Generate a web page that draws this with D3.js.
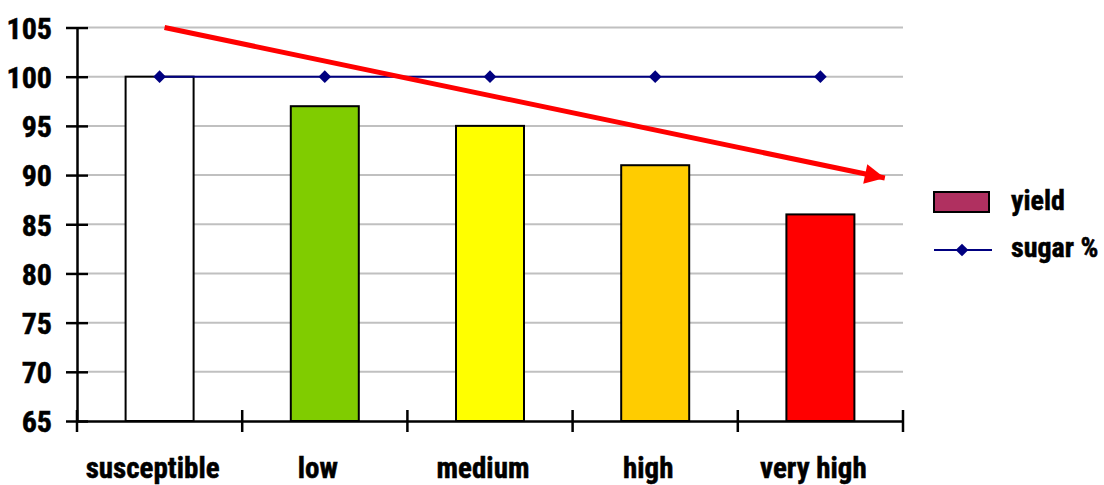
<!DOCTYPE html>
<html>
<head>
<meta charset="utf-8">
<script src="https://cdn.jsdelivr.net/npm/d3@7/dist/d3.min.js"></script>
<style>
  html, body { margin: 0; padding: 0; background: #fff; }
  svg text { font-family: "Liberation Sans Narrow", "Arial Narrow", "Roboto Condensed", sans-serif; font-weight: bold; fill: #000; stroke: #000; stroke-width: 0.5px; }
</style>
</head>
<body>
<svg id="chart" width="1104" height="485"></svg>
<script>
// Resistance classes and their relative values (%)
const categories = ["susceptible", "low", "medium", "high", "very high"];
const yieldValues = [100, 97, 95, 91, 86];
const sugarValues = [100, 100, 100, 100, 100];
const barColors = ["#FFFFFF", "#80CC00", "#FFFF00", "#FFCC00", "#FF0000"];
const yTicks = [65, 70, 75, 80, 85, 90, 95, 100, 105];
// Trend arrow, given as [category position, value]
const trendStart = [0.03, 105];
const trendEnd = [4.39, 89.7];

const svg = d3.select("#chart");
const plotLeft = 77, plotRight = 903, plotTop = 27.5, plotBottom = 421;

const x = d3.scaleBand().domain(categories).range([plotLeft, plotRight]);
const xi = d3.scaleLinear().domain([-0.5, categories.length - 0.5]).range([plotLeft, plotRight]);
const y = d3.scaleLinear().domain([65, 105]).range([plotBottom, plotTop]);
const barW = 68;
const cx = i => x(categories[i]) + x.bandwidth() / 2;

// Horizontal gridlines
svg.append("g").selectAll("line").data(yTicks.filter(t => t > 65)).join("line")
  .attr("x1", plotLeft + 11).attr("x2", plotRight)
  .attr("y1", d => y(d)).attr("y2", d => y(d))
  .attr("stroke", "#c0c0c0").attr("stroke-width", 2);

// Bars
svg.append("g").selectAll("rect").data(yieldValues).join("rect")
  .attr("x", (d, i) => cx(i) - barW / 2)
  .attr("width", barW)
  .attr("y", d => y(d))
  .attr("height", d => y(65) - y(d))
  .attr("fill", (d, i) => barColors[i])
  .attr("stroke", "#000").attr("stroke-width", 2);

// Y axis
const yAxis = d3.axisLeft(y).tickValues(yTicks).tickSize(0).tickPadding(25);
const gy = svg.append("g").attr("transform", `translate(${plotLeft},0)`).call(yAxis);
gy.select(".domain").attr("stroke", "#000").attr("stroke-width", 2.5);
gy.selectAll(".tick text").style("font-size", "30px").attr("dy", "0.36em");
gy.selectAll(".tick").append("line").attr("x1", -11).attr("x2", 11)
  .attr("stroke", "#000").attr("stroke-width", 2.5);

// X axis
const xAxis = d3.axisBottom(x).tickSize(0).tickPadding(36);
const gx = svg.append("g").attr("transform", `translate(0,${plotBottom})`).call(xAxis);
gx.select(".domain").attr("stroke", "#000").attr("stroke-width", 2.5);
gx.selectAll(".tick text").style("font-size", "29px").attr("dx", -7);
const bounds = d3.range(categories.length + 1).map(i => xi(i - 0.5));
gx.selectAll("line.sep").data(bounds).join("line").attr("class", "sep")
  .attr("x1", d => d).attr("x2", d => d).attr("y1", -11).attr("y2", 11)
  .attr("stroke", "#000").attr("stroke-width", 2.5);

// Sugar line with diamond markers
const diamond = d3.symbol().type(d3.symbolSquare).size(80);
const line = d3.line().x((d, i) => cx(i)).y(d => y(d));
svg.append("path").datum(sugarValues).attr("d", line)
  .attr("fill", "none").attr("stroke", "#000080").attr("stroke-width", 2);
svg.append("g").selectAll("path").data(sugarValues).join("path")
  .attr("transform", (d, i) => `translate(${cx(i)},${y(d)}) rotate(45)`)
  .attr("d", diamond)
  .attr("fill", "#000080");

// Trend arrow
const defs = svg.append("defs");
defs.append("marker").attr("id", "arrowHead")
  .attr("viewBox", "0 0 10 10").attr("refX", 10).attr("refY", 5)
  .attr("markerWidth", 4.2).attr("markerHeight", 4).attr("markerUnits", "strokeWidth")
  .attr("orient", "auto")
  .append("path").attr("d", "M0,0 L10,5 L0,10 Z").attr("fill", "#FF0000");
svg.append("line")
  .attr("x1", xi(trendStart[0])).attr("y1", y(trendStart[1]))
  .attr("x2", xi(trendEnd[0])).attr("y2", y(trendEnd[1]))
  .attr("stroke", "#FF0000").attr("stroke-width", 5)
  .attr("marker-end", "url(#arrowHead)");

// Legend
const lg = svg.append("g");
lg.append("rect").attr("x", 934).attr("y", 192).attr("width", 55).attr("height", 20)
  .attr("fill", "#B03060").attr("stroke", "#000").attr("stroke-width", 2);
lg.append("text").attr("x", 1011).attr("y", 210).style("font-size", "28px").text("yield");
lg.append("line").attr("x1", 934).attr("x2", 992).attr("y1", 250).attr("y2", 250)
  .attr("stroke", "#000080").attr("stroke-width", 2);
lg.append("path").attr("transform", "translate(962,250) rotate(45)")
  .attr("d", diamond).attr("fill", "#000080");
lg.append("text").attr("x", 1011).attr("y", 257).style("font-size", "28px").text("sugar %");
</script>
</body>
</html>
